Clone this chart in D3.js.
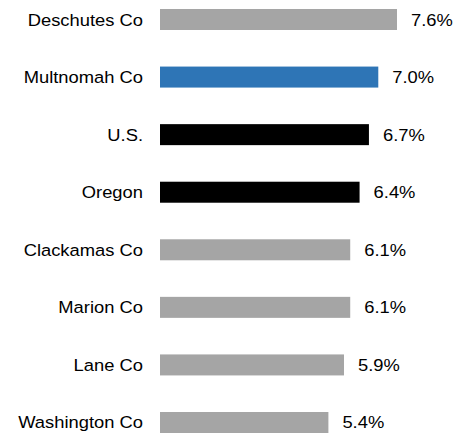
<!DOCTYPE html>
<html>
<head>
<meta charset="utf-8">
<script src="https://cdn.jsdelivr.net/npm/d3@7"></script>
<style>
  html, body { margin: 0; padding: 0; background: #fff; }
  svg { display: block; }
  text { font-family: "Liberation Sans", Arial, sans-serif; fill: #000; }
</style>
</head>
<body>
<svg id="chart" width="469" height="435"></svg>
<script>
const categories = ["Deschutes Co", "Multnomah Co", "U.S.", "Oregon", "Clackamas Co", "Marion Co", "Lane Co", "Washington Co"];
const values = [7.6, 7.0, 6.7, 6.4, 6.1, 6.1, 5.9, 5.4];
const barColors = ["#A5A5A5", "#2E75B6", "#000000", "#000000", "#A5A5A5", "#A5A5A5", "#A5A5A5", "#A5A5A5"];

const svg = d3.select("#chart");
const fontSize = 17;
const stretch = 1.08;

const x = d3.scaleLinear().domain([0, 7.6]).range([160, 397]);
const y = d3.scaleBand().domain(categories).range([9, 433])
  .paddingInner(1 - 21 / 57.57).paddingOuter(0);

const rows = categories.map((c, i) => ({ c, v: values[i], col: barColors[i] }));

svg.selectAll("rect.bar").data(rows).enter().append("rect")
  .attr("class", "bar")
  .attr("x", x(0))
  .attr("y", d => y(d.c))
  .attr("width", d => x(d.v) - x(0))
  .attr("height", y.bandwidth())
  .attr("fill", d => d.col);

svg.selectAll("text.cat").data(rows).enter().append("text")
  .attr("class", "cat")
  .attr("text-anchor", "end")
  .attr("font-size", fontSize)
  .attr("transform", d => `translate(143,${y(d.c) + y.bandwidth() / 2 + 6}) scale(${stretch},1)`)
  .text(d => d.c);

svg.selectAll("text.val").data(rows).enter().append("text")
  .attr("class", "val")
  .attr("text-anchor", "start")
  .attr("font-size", fontSize)
  .attr("transform", d => `translate(${x(d.v) + 14},${y(d.c) + y.bandwidth() / 2 + 6}) scale(${stretch},1)`)
  .text(d => d3.format(".1f")(d.v) + "%");
</script>
</body>
</html>
